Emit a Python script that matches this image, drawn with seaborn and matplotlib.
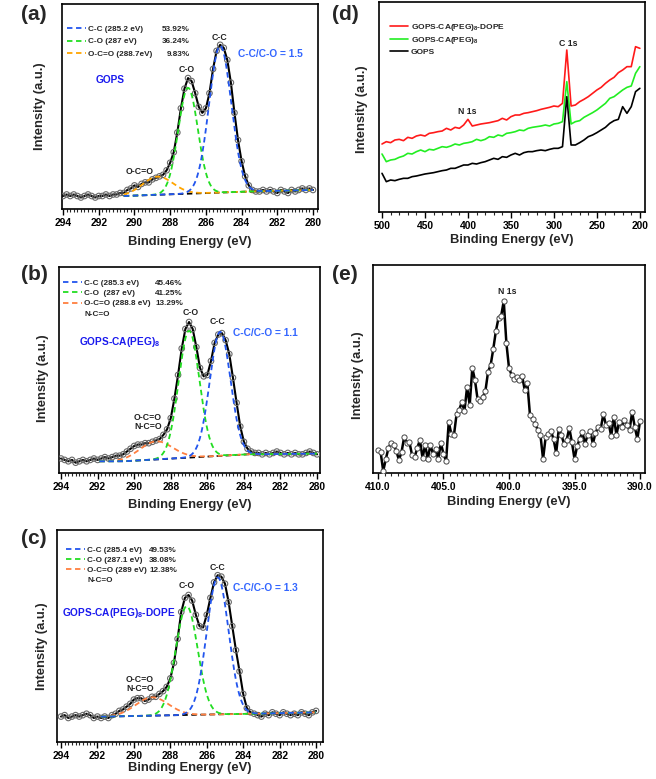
import numpy as np
import pandas as pd
import matplotlib
matplotlib.use("Agg")
import matplotlib.pyplot as plt
import seaborn as sns
from matplotlib.lines import Line2D
from matplotlib.ticker import MultipleLocator, FormatStrFormatter

sns.set_theme(style="ticks")
plt.rcParams['font.family'] = ['Liberation Sans', 'DejaVu Sans']
plt.rcParams['font.weight'] = 'bold'
plt.rcParams['axes.labelweight'] = 'bold'
plt.rcParams['mathtext.fontset'] = 'custom'
plt.rcParams['mathtext.rm'] = 'Liberation Sans:bold'
plt.rcParams['mathtext.it'] = 'Liberation Sans:bold'
plt.rcParams['mathtext.bf'] = 'Liberation Sans:bold'

W, H = 656, 779

# ---DATA---
# C 1s high resolution spectra, 294 -> 280 eV in 0.2 eV steps (normalised)
be_c1s = np.round(np.arange(294.0, 279.99, -0.2), 1)
gops_c1s = [0.00, 0.01, 0.00, 0.01, 0.00, -0.01, 0.00, 0.01, 0.00, -0.01,
            0.00, 0.00, 0.01, 0.00, 0.01, 0.01, 0.02, 0.02, 0.04, 0.05,
            0.07, 0.06, 0.08, 0.09, 0.09, 0.11, 0.12, 0.13, 0.14, 0.17,
            0.22, 0.29, 0.42, 0.58, 0.71, 0.78, 0.76, 0.68, 0.59, 0.55,
            0.58, 0.68, 0.84, 0.96, 1.00, 0.98, 0.90, 0.75, 0.55, 0.37,
            0.23, 0.13, 0.07, 0.04, 0.03, 0.03, 0.04, 0.03, 0.04, 0.03,
            0.02, 0.04, 0.03, 0.02, 0.04, 0.03, 0.04, 0.05, 0.04, 0.05, 0.04]
peg_c1s = [0.02, 0.01, 0.00, 0.01, -0.01, 0.00, 0.01, 0.00, 0.01, 0.02,
           0.01, 0.02, 0.03, 0.02, 0.03, 0.04, 0.04, 0.05, 0.07, 0.09,
           0.11, 0.12, 0.12, 0.13, 0.13, 0.14, 0.15, 0.16, 0.19, 0.23,
           0.31, 0.45, 0.62, 0.81, 0.95, 1.00, 0.95, 0.82, 0.67, 0.61,
           0.62, 0.72, 0.85, 0.91, 0.92, 0.87, 0.77, 0.60, 0.42, 0.25,
           0.14, 0.09, 0.07, 0.06, 0.06, 0.05, 0.06, 0.05, 0.06, 0.07,
           0.06, 0.05, 0.06, 0.05, 0.06, 0.05, 0.05, 0.06, 0.07, 0.06, 0.05]
dope_c1s = [0.00, 0.01, -0.01, 0.00, 0.01, 0.00, 0.01, 0.02, 0.01, -0.01,
            0.00, -0.01, 0.00, -0.01, 0.01, 0.02, 0.04, 0.05, 0.07, 0.09,
            0.12, 0.13, 0.13, 0.11, 0.12, 0.14, 0.14, 0.16, 0.18, 0.21,
            0.27, 0.38, 0.55, 0.74, 0.84, 0.86, 0.82, 0.72, 0.64, 0.63,
            0.72, 0.84, 0.95, 1.00, 0.99, 0.94, 0.81, 0.64, 0.47, 0.32,
            0.16, 0.06, 0.03, 0.02, 0.01, 0.00, 0.02, 0.01, 0.03, 0.02,
            0.01, 0.03, 0.02, 0.01, 0.02, 0.01, 0.03, 0.02, 0.01, 0.03, 0.04]

# fitted components: C-C, C-O, O-C=O (centre eV, height, sigma eV)
comp_names = ['C-C', 'C-O', 'O-C=O']
gops_centre = [285.2, 287.0, 288.7]
gops_height = [0.97, 0.70, 0.12]
gops_sigma = [0.62, 0.55, 0.85]
peg_centre = [285.3, 287.0, 288.8]
peg_height = [0.89, 0.91, 0.13]
peg_sigma = [0.57, 0.57, 0.90]
dope_centre = [285.4, 287.1, 289.0]
dope_height = [0.97, 0.77, 0.13]
dope_sigma = [0.60, 0.60, 0.90]

# background lines (eV, intensity)
gops_bg_e, gops_bg_i = [290.6, 283.6, 280.0], [0.0, 0.03, 0.04]
peg_bg_e, peg_bg_i = [290.6, 283.9, 280.0], [0.0, 0.05, 0.055]
dope_bg_e, dope_bg_i = [291.5, 283.5, 280.0], [0.0, 0.02, 0.03]

gops_pct = ['53.92%', '36.24%', '9.83%']
peg_pct = ['45.46%', '41.25%', '13.29%']
dope_pct = ['49.53%', '38.08%', '12.38%']
gops_leg = ['C-C (285.2 eV)', 'C-O (287 eV)', 'O-C=O (288.7eV)']
peg_leg = ['C-C (285.3 eV)', 'C-O  (287 eV)', 'O-C=O (288.8 eV)']
dope_leg = ['C-C (285.4 eV)', 'C-O (287.1 eV)', 'O-C=O (289 eV)']

# survey spectra, 500 -> 200 eV in 5 eV steps
be_survey = np.arange(500, 199, -5)
survey_dope = [1.98, 2.05, 2.02, 2.10, 2.12, 2.08, 2.18, 2.15, 2.22, 2.25,
               2.22, 2.30, 2.32, 2.35, 2.37, 2.45, 2.40, 2.48, 2.45, 2.55,
               2.72, 2.52, 2.55, 2.58, 2.60, 2.62, 2.65, 2.68, 2.75, 2.70,
               2.80, 2.85, 2.85, 2.90, 2.92, 2.95, 2.98, 3.02, 3.05, 3.08,
               3.12, 3.10, 3.20, 4.80, 3.12, 3.15, 3.25, 3.32, 3.40, 3.50,
               3.60, 3.68, 3.80, 3.90, 3.98, 4.12, 4.20, 4.30, 4.30, 4.90, 4.85]
survey_peg = [1.68, 1.45, 1.50, 1.52, 1.58, 1.62, 1.70, 1.68, 1.75, 1.80,
              1.75, 1.82, 1.80, 1.85, 1.90, 1.88, 1.92, 1.98, 1.95, 2.00,
              2.02, 2.05, 2.12, 2.08, 2.12, 2.20, 2.18, 2.25, 2.22, 2.30,
              2.32, 2.35, 2.40, 2.38, 2.45, 2.48, 2.50, 2.52, 2.55, 2.52,
              2.58, 2.60, 2.65, 3.85, 2.58, 2.65, 2.68, 2.78, 2.85, 2.92,
              3.00, 3.10, 3.20, 3.35, 3.40, 3.50, 3.60, 3.68, 3.72, 4.10, 4.30]
survey_gops = [1.10, 0.85, 0.90, 0.88, 0.92, 0.95, 0.95, 1.00, 1.02, 1.05,
               1.08, 1.10, 1.12, 1.15, 1.18, 1.20, 1.25, 1.25, 1.30, 1.35,
               1.35, 1.40, 1.38, 1.42, 1.45, 1.50, 1.55, 1.52, 1.60, 1.58,
               1.65, 1.70, 1.65, 1.72, 1.75, 1.75, 1.78, 1.80, 1.78, 1.82,
               1.85, 1.85, 1.90, 3.40, 1.95, 1.95, 2.02, 2.10, 2.20, 2.25,
               2.32, 2.40, 2.48, 2.60, 2.68, 2.72, 3.10, 2.90, 3.10, 3.55, 3.65]
survey_names = ['GOPS-CA(PEG)$_8$-DOPE', 'GOPS-CA(PEG)$_8$', 'GOPS']

# N 1s high resolution spectrum, 410 -> 390 eV in 0.2 eV steps
be_n1s = np.round(np.arange(410.0, 389.99, -0.2), 1)
n1s = [0.23, 0.21, 0.02, 0.14, 0.25, 0.30, 0.28, 0.22, 0.13, 0.21,
       0.36, 0.30, 0.31, 0.18, 0.16, 0.25, 0.33, 0.15, 0.28, 0.14,
       0.28, 0.19, 0.24, 0.14, 0.30, 0.19, 0.12, 0.51, 0.39, 0.38,
       0.59, 0.63, 0.71, 0.62, 0.86, 0.68, 1.05, 0.93, 0.74, 0.72,
       0.76, 0.82, 1.01, 1.08, 1.24, 1.42, 1.55, 1.57, 1.72, 1.30,
       1.05, 0.98, 0.94, 0.96, 0.93, 0.97, 0.83, 0.90, 0.58, 0.54,
       0.49, 0.43, 0.38, 0.14, 0.36, 0.39, 0.42, 0.34, 0.20, 0.44,
       0.38, 0.29, 0.33, 0.45, 0.31, 0.14, 0.27, 0.34, 0.41, 0.29,
       0.38, 0.42, 0.29, 0.40, 0.46, 0.44, 0.59, 0.48, 0.50, 0.37,
       0.56, 0.38, 0.51, 0.46, 0.53, 0.48, 0.43, 0.61, 0.46, 0.34, 0.52]

# ---FIGURE---
fig = plt.figure(figsize=(W / 100, H / 100), dpi=100)


def add_ax(x0, y0, x1, y1):
    # box given in pixels (left, top, right, bottom)
    return fig.add_axes([x0 / W, 1 - y1 / H, (x1 - x0) / W, (y1 - y0) / H])


def ftext(x, y, s, **kw):
    return fig.text(x / W, 1 - y / H, s, **kw)


def style_ax(ax, major, minor, lblx, lbly):
    for sp in ax.spines.values():
        sp.set_visible(True)
        sp.set_linewidth(1.2)
        sp.set_color('black')
    ax.set_yticks([])
    ax.xaxis.set_major_locator(MultipleLocator(major))
    ax.xaxis.set_minor_locator(MultipleLocator(minor))
    ax.tick_params(axis='x', which='major', direction='out', length=4, width=1,
                   labelsize=7.4, pad=2.5, colors='black')
    ax.tick_params(axis='x', which='minor', direction='out', length=2, width=0.8)
    for t in ax.get_xticklabels():
        t.set_fontweight('bold')
    ax.set_xlabel('Binding Energy (eV)', fontsize=9.4, fontweight='bold')
    ax.set_ylabel('Intensity (a.u.)', fontsize=9.4, fontweight='bold')
    ax.xaxis.set_label_coords(0.5, lblx)
    ax.yaxis.set_label_coords(lbly[0], lbly[1])
    ax.set_facecolor('white')


blue, green = '#2255ee', '#22dd22'
leg_size = 5.9
c1s_panels = [
    dict(box=(62, 4, 318, 209), xlim=(294.06, 279.72), ylim=(-0.086, 1.27),
         y=gops_c1s, ctr=gops_centre, hgt=gops_height, sig=gops_sigma,
         bge=gops_bg_e, bgi=gops_bg_i, win=290.6, orange='#ffa500',
         leg=gops_leg, pct=gops_pct, legxy=(67, 25), pct_x=190, spacing=0.6,
         lblx=-0.13, lbly=(-0.0625, 0.5)),
    dict(box=(59, 267, 320, 473), xlim=(294.11, 279.84), ylim=(-0.084, 1.395),
         y=peg_c1s, ctr=peg_centre, hgt=peg_height, sig=peg_sigma,
         bge=peg_bg_e, bgi=peg_bg_i, win=291.9, orange='#ff7f3f',
         leg=peg_leg, pct=peg_pct, legxy=(63, 279), pct_x=183, spacing=0.32,
         lblx=-0.126, lbly=(-0.038, 0.46)),
    dict(box=(57, 530, 323, 742), xlim=(294.22, 279.62), ylim=(-0.18, 1.32),
         y=dope_c1s, ctr=dope_centre, hgt=dope_height, sig=dope_sigma,
         bge=dope_bg_e, bgi=dope_bg_i, win=291.8, orange='#ff7f3f',
         leg=dope_leg, pct=dope_pct, legxy=(66, 546), pct_x=177, spacing=0.27,
         lblx=-0.094, lbly=(-0.034, 0.45)),
]

for k, p in enumerate(c1s_panels):
    ax = add_ax(*p['box'])
    df = pd.DataFrame({'be': be_c1s, 'counts': p['y']})
    sns.lineplot(data=df, x='be', y='counts', ax=ax, color='black', lw=1.5,
                 sort=False, zorder=3)
    sns.scatterplot(data=df, x='be', y='counts', ax=ax, s=16, marker='o',
                    facecolor='none', edgecolor='#6a6a6a', linewidth=0.8, zorder=4)
    # fitted components on top of the background
    e_fit = np.linspace(p['win'], 280.0, 300)
    bg = np.interp(e_fit, p['bge'][::-1], p['bgi'][::-1])
    ax.plot(e_fit, bg, color='black', ls=(0, (3, 2)), lw=1.3, zorder=5)
    colors = [blue, green, p['orange']]
    handles = []
    for ci in [2, 1, 0]:
        comp = p['hgt'][ci] * np.exp(-(e_fit - p['ctr'][ci]) ** 2 / (2 * p['sig'][ci] ** 2))
        ax.plot(e_fit, bg + comp, color=colors[ci], ls=(0, (3, 2)), lw=1.3, zorder=6)
    for ci in range(3):
        handles.append(Line2D([], [], color=colors[ci], ls=(0, (3, 2)), lw=1.3))
    labels = list(p['leg'])
    if k > 0:
        handles.append(Line2D([], [], color='none'))
        labels.append('N-C=O')
    ax.set_xlim(*p['xlim'])
    ax.set_ylim(*p['ylim'])
    style_ax(ax, 2, 0.2, p['lblx'], p['lbly'])
    lg = ax.legend(handles, labels, loc='upper left', frameon=False,
                   bbox_to_anchor=(p['legxy'][0] / W, 1 - p['legxy'][1] / H),
                   bbox_transform=fig.transFigure, borderpad=0, borderaxespad=0,
                   handlelength=2.3, handletextpad=0.3, labelspacing=p['spacing'],
                   prop={'size': leg_size, 'weight': 'bold'})
    p['legend'] = lg

# sample names, peak labels and ratios
name_kw = dict(color='#1a1aee', fontsize=7.3, fontweight='bold', va='center')
ratio_kw = dict(color='#3366ff', fontsize=7.3, fontweight='bold', va='center', ha='center')
peak_kw = dict(color='#222222', fontsize=6.3, fontweight='bold', va='center', ha='center',
               linespacing=1.0)
ftext(110, 80, 'GOPS', ha='center', **name_kw)
ftext(79, 342, 'GOPS-CA(PEG)$_8$', ha='left', **name_kw)
ftext(62, 613, 'GOPS-CA(PEG)$_8$-DOPE', ha='left', **name_kw)
ftext(270, 54, 'C-C/C-O = 1.5', **ratio_kw)
ftext(265, 333, 'C-C/C-O = 1.1', **ratio_kw)
ftext(265, 588, 'C-C/C-O = 1.3', **ratio_kw)
for (x, y, s) in [(187, 69, 'C-O'), (219, 38, 'C-C'), (140, 172, 'O-C=O'),
                  (191, 312, 'C-O'), (218, 322, 'C-C'), (148, 422, 'O-C=O\nN-C=O'),
                  (187, 586, 'C-O'), (218, 567, 'C-C'), (140, 684, 'O-C=O\nN-C=O')]:
    ftext(x, y, s, **peak_kw)

# ---SURVEY (d)---
axd = add_ax(379, 2, 645, 212)
survey = pd.DataFrame({'be': np.tile(be_survey, 3),
                       'counts': survey_dope + survey_peg + survey_gops,
                       'sample': np.repeat(survey_names, len(be_survey))})
sns.lineplot(data=survey, x='be', y='counts', hue='sample', ax=axd, sort=False,
             palette=['#ff1a1a', '#22ee22', 'black'], lw=1.2)
axd.set_xlim(503.5, 194)
axd.set_ylim(-0.06, 6.24)
style_ax(axd, 50, 10, -0.105, (-0.041, 0.49))
axd.legend(loc='upper left', frameon=False, title=None,
           bbox_to_anchor=(390 / W, 1 - 22 / H), bbox_transform=fig.transFigure,
           borderpad=0, borderaxespad=0, handlelength=2.1, handletextpad=0.4,
           labelspacing=0.25, prop={'size': 6, 'weight': 'bold'})
ftext(568, 43, 'C 1s', **peak_kw)
ftext(467, 112, 'N 1s', **peak_kw)

# ---N 1s (e)---
axe = add_ax(373, 265, 645, 473)
dfn = pd.DataFrame({'be': be_n1s, 'counts': n1s})
sns.lineplot(data=dfn, x='be', y='counts', ax=axe, color='black', lw=1.8, sort=False)
sns.scatterplot(data=dfn, x='be', y='counts', ax=axe, s=14, marker='o',
                facecolor='white', edgecolor='#444444', linewidth=0.7, zorder=4)
axe.set_xlim(410.38, 389.62)
axe.set_ylim(0, 2.08)
style_ax(axe, 5, 0.5, -0.11, (-0.033, 0.47))
axe.xaxis.set_major_formatter(FormatStrFormatter('%.1f'))
ftext(507, 292, 'N 1s', **peak_kw)

# panel letters
for (x, y, s) in [(21, 14, '(a)'), (21, 274, '(b)'), (21, 539, '(c)'),
                  (332, 14, '(d)'), (332, 275, '(e)')]:
    ftext(x, y, s, fontsize=15, fontweight='bold', va='center', ha='left')

# percentages lined up with the legend rows
fig.canvas.draw()
for p in c1s_panels:
    texts = p['legend'].get_texts()
    for t, s in zip(texts, p['pct']):
        bb = t.get_window_extent()
        fig.text(p['pct_x'] / W, (bb.y0 + bb.y1) / 2 / fig.bbox.height, s,
                 ha='right', va='center', fontsize=leg_size, fontweight='bold')

fig.savefig('out.png', dpi=100)
